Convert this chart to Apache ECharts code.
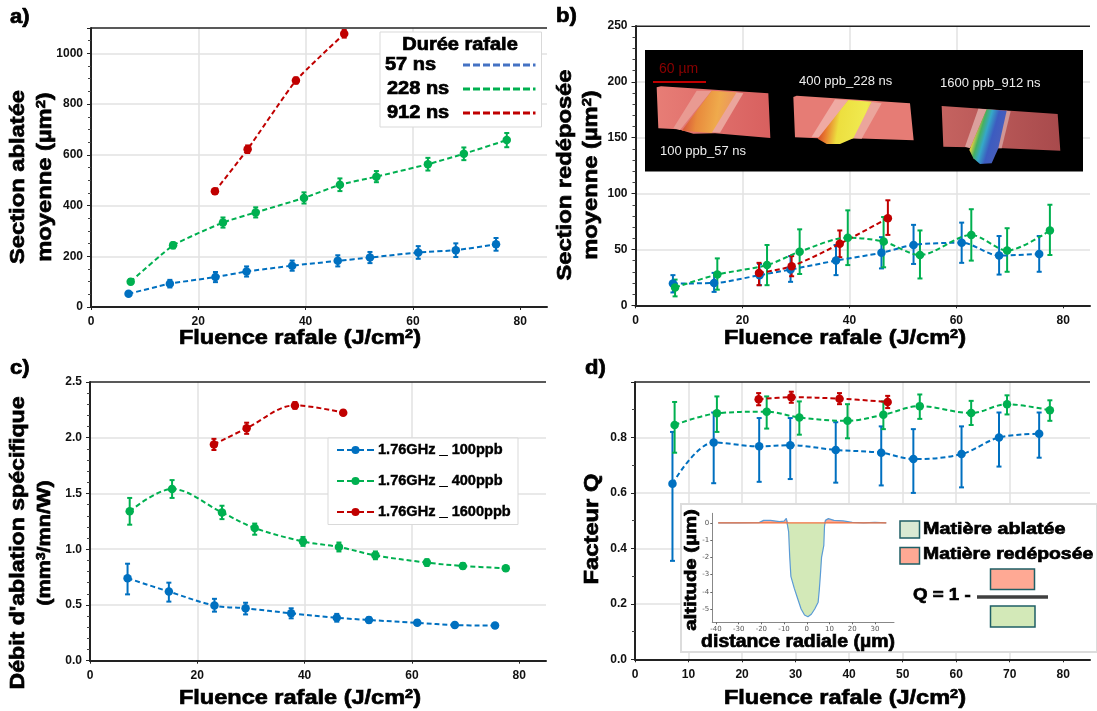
<!DOCTYPE html>
<html><head><meta charset="utf-8">
<style>html,body{margin:0;padding:0;background:#fff}#c{width:1097px;height:711px}</style>
<script src="https://cdn.jsdelivr.net/npm/echarts@6/dist/echarts.min.js"></script>
</head><body><div id="c"></div>
<script>
// ---------- data ----------
const xBlue  = [7, 14.7, 23.2, 29, 37.5, 46, 52, 61, 68, 75.5];
const xGreen = [7.4, 15.3, 24.6, 30.7, 39.7, 46.4, 53.2, 62.8, 69.5, 77.5];
const xRed   = [23.1, 29.2, 38.2, 47.2];

const aBlue    = [52, 92, 118, 140, 163, 182, 195, 215, 224, 247];
const aBlueHi  = [60, 107, 138, 160, 183, 204, 217, 240, 251, 272];
const aBlueLo  = [44, 77, 98, 120, 143, 160, 173, 190, 197, 222];
const aGreen   = [100, 243, 333, 373, 430, 482, 514, 563, 604, 658];
const aGreenHi = [110, 255, 353, 393, 452, 507, 536, 588, 629, 686];
const aGreenLo = [90, 231, 313, 353, 408, 457, 492, 538, 579, 630];
const aRed     = [456, 622, 893, 1077];
const aRedHi   = [466, 637, 905, 1092];
const aRedLo   = [446, 607, 881, 1062];

const bBlue    = [19.5, 20, 27, 32, 40, 47, 54, 56, 44.5, 46];
const bBlueHi  = [27, 29, 37, 44, 54, 61, 72, 74, 62, 62];
const bBlueLo  = [11.5, 12, 18, 21, 27, 33, 37, 38, 27.5, 30];
const bGreen   = [16, 27.5, 36, 48, 60.5, 57, 45, 63, 49, 67];
const bGreenHi = [23, 42, 54, 68, 85, 79, 67, 86, 69, 90];
const bGreenLo = [8, 14, 18, 28, 36, 34, 24, 40, 30, 45];
const bRed     = [29, 35, 55, 78];
const bRedHi   = [38, 44, 67, 94];
const bRedLo   = [18, 26, 43, 63];

const cBlue    = [0.74, 0.62, 0.495, 0.47, 0.425, 0.385, 0.365, 0.34, 0.32, 0.315];
const cBlueHi  = [0.87, 0.70, 0.555, 0.52, 0.47, 0.42, 0.39, 0.365, 0.34, 0.33];
const cBlueLo  = [0.595, 0.53, 0.44, 0.415, 0.38, 0.35, 0.34, 0.32, 0.30, 0.30];
const cGreen   = [1.34, 1.54, 1.33, 1.19, 1.07, 1.02, 0.945, 0.88, 0.85, 0.83];
const cGreenHi = [1.46, 1.62, 1.39, 1.23, 1.11, 1.06, 0.98, 0.91, 0.875, 0.85];
const cGreenLo = [1.22, 1.46, 1.27, 1.13, 1.03, 0.98, 0.91, 0.85, 0.825, 0.81];
const cRed     = [1.94, 2.085, 2.29, 2.225];
const cRedHi   = [1.99, 2.135, 2.32, 2.245];
const cRedLo   = [1.89, 2.035, 2.26, 2.205];

const dBlue    = [0.633, 0.782, 0.768, 0.772, 0.755, 0.745, 0.722, 0.74, 0.80, 0.813];
const dBlueHi  = [0.82, 0.89, 0.87, 0.87, 0.855, 0.84, 0.83, 0.84, 0.89, 0.89];
const dBlueLo  = [0.355, 0.635, 0.64, 0.65, 0.637, 0.627, 0.60, 0.62, 0.695, 0.727];
const dGreen   = [0.845, 0.887, 0.893, 0.872, 0.86, 0.882, 0.913, 0.888, 0.92, 0.898];
const dGreenHi = [0.928, 0.948, 0.948, 0.93, 0.92, 0.93, 0.955, 0.932, 0.952, 0.934];
const dGreenLo = [0.745, 0.82, 0.832, 0.81, 0.797, 0.83, 0.867, 0.845, 0.883, 0.86];
const dRed     = [0.938, 0.945, 0.94, 0.928];
const dRedHi   = [0.96, 0.965, 0.96, 0.95];
const dRedLo   = [0.916, 0.925, 0.92, 0.906];

const profileX = [-39, -30, -21, -19, -16, -12, -10, -9, -8.5, -8, -7.5, -7, -5.5, -4, -2.5, -1, 0.5, 2, 3.5, 5, 5.5, 6, 6.5, 7.5, 7.8, 8.2, 9.5, 12, 16, 20, 25, 30, 35];
const profileY = [0, 0, 0.02, 0.15, 0.15, 0.08, 0.1, 0.27, 0.25, -0.5, -2, -3.1, -3.8, -4.4, -5, -5.35, -5.45, -5.3, -5, -4.6, -3.9, -3, -2, -1.3, -0.2, 0.15, 0.25, 0.15, 0.12, 0.03, 0, 0.03, 0];

const xTicks = [0, 20, 40, 60, 80];
const xTicksD = [0, 10, 20, 30, 40, 50, 60, 70, 80];
const insetXTicks = [-40, -30, -20, -10, 0, 10, 20, 30];
const insetYTicks = [-5, -4, -3, -2, -1, 0];
const legendA = ['57 ns', '228 ns', '912 ns'];
const legendC = ['1.76GHz _ 100ppb', '1.76GHz _ 400ppb', '1.76GHz _ 1600ppb'];

// ---------- styling ----------
const BLUE = '#0070C0', GREEN = '#00B050', RED = '#C00000';
const FONT = '"Liberation Sans", Arial, sans-serif';
const INK = '#111';

const grids = [
  {left: 91,    top: 28,  width: 456,   height: 279},
  {left: 635.5, top: 26,  width: 454.5, height: 279.3},
  {left: 90,    top: 382, width: 456,   height: 278.7},
  {left: 635,   top: 382, width: 455,   height: 277.3},
  {left: 712.3, top: 513.3, width: 181.7, height: 109}
];

function mainX(i, ticks) {
  return {gridIndex: i, type: 'value', min: 0, max: 85, z: 0,
    axisLine: {show: true, onZero: false, lineStyle: {color: '#222', width: 2}},
    axisTick: {show: true, length: 3, lineStyle: {color: '#222'}, customValues: ticks},
    axisLabel: {color: INK, fontWeight: 'bold', fontSize: 12, fontFamily: FONT, margin: 9, customValues: ticks},
    splitLine: {show: true, showMinLine: false, showMaxLine: false, lineStyle: {color: '#e2e2e2', width: 1.5}}};
}
function mainY(i, max, interval, minor, fmt) {
  return {gridIndex: i, type: 'value', min: 0, max: max, interval: interval, z: 0,
    axisLine: {show: true, onZero: false, lineStyle: {color: '#222', width: 2}},
    axisTick: {show: true, length: 4, lineStyle: {color: '#222', width: 1}},
    minorTick: {show: true, splitNumber: minor, length: 3, lineStyle: {color: '#444'}},
    axisLabel: {color: INK, fontWeight: 'bold', fontSize: 12, fontFamily: FONT, margin: 8, showMaxLabel: max % interval === 0 ? true : false,
      formatter: fmt},
    splitLine: {show: true, showMinLine: false, showMaxLine: false, lineStyle: {color: '#e2e2e2', width: 1.5}}};
}
function errorSeries(i, color, xs, lo, hi) {
  return {type: 'custom', xAxisIndex: i, yAxisIndex: i, z: 3, silent: true, clip: false,
    data: xs.map((x, k) => [x, lo[k], hi[k]]), encode: {x: 0, y: [1, 2]},
    renderItem(params, api) {
      const a = api.coord([api.value(0), api.value(1)]), b = api.coord([api.value(0), api.value(2)]);
      const st = {stroke: color, lineWidth: 2, fill: 'none'};
      return {type: 'group', children: [
        {type: 'line', shape: {x1: a[0], y1: a[1], x2: b[0], y2: b[1]}, style: st},
        {type: 'line', shape: {x1: a[0] - 2.5, y1: a[1], x2: a[0] + 2.5, y2: a[1]}, style: st},
        {type: 'line', shape: {x1: b[0] - 2.5, y1: b[1], x2: b[0] + 2.5, y2: b[1]}, style: st}
      ]};
    }};
}
function lineSeries(i, name, color, xs, ys, smooth) {
  return {type: 'line', name: name, xAxisIndex: i, yAxisIndex: i, z: 4, smooth: smooth, clip: false,
    data: xs.map((x, k) => [x, ys[k]]), symbol: 'circle', symbolSize: 8.5, animation: false,
    itemStyle: {color: color}, lineStyle: {color: color, width: 2, type: [5, 3]}};
}
function panel(i, blue, bhi, blo, green, ghi, glo, red, rhi, rlo, smooth) {
  return [
    errorSeries(i, BLUE, xBlue, blo, bhi), lineSeries(i, '100 ppb', BLUE, xBlue, blue, smooth),
    errorSeries(i, GREEN, xGreen, glo, ghi), lineSeries(i, '400 ppb', GREEN, xGreen, green, smooth),
    errorSeries(i, RED, xRed, rlo, rhi), lineSeries(i, '1600 ppb', RED, xRed, red, smooth)
  ];
}

// ---------- decoration helpers ----------
const gfx = [];
function txt(x, y, text, size, o) {
  o = o || {};
  const weight = o.weight || 'bold', color = o.color || '#000', sw = o.sw === undefined ? 0.7 : o.sw;
  const base = {fontSize: size, fontWeight: weight, fontFamily: FONT, fill: color, stroke: sw ? color : null, lineWidth: sw};
  gfx.push({type: 'text', z: o.z || 5, x: x, y: y, rotation: o.rot || 0, scaleX: o.sx || 1, silent: true,
    style: Object.assign({}, base, {text: text, align: o.align || 'center', verticalAlign: 'middle',
      rich: {s: Object.assign({}, base, {fontSize: Math.round(size * 0.64), verticalAlign: 'top'}),
             n: base}})});
}
function rect(x, y, w, h, fill, stroke, lw, z) {
  gfx.push({type: 'rect', z: z || 1, silent: true, shape: {x: x, y: y, width: w, height: h},
    style: {fill: fill, stroke: stroke || null, lineWidth: lw || 0}});
}
function ln(x1, y1, x2, y2, color, lw, dash, z) {
  gfx.push({type: 'line', z: z || 5, silent: true, shape: {x1: x1, y1: y1, x2: x2, y2: y2},
    style: {stroke: color, lineWidth: lw, lineDash: dash || null}});
}
function poly(pts, fill, z) {   // coordinates as measured in the 3x crop of the embedded micrograph
  gfx.push({type: 'polygon', z: z || 2, silent: true,
    shape: {points: pts.map(p => [640 + p[0] / 3, 40 + p[1] / 3])}, style: {fill: fill}});
}
const grad = (stops, x, y, x2, y2) => ({type: 'linear', x: x, y: y, x2: x2, y2: y2,
  colorStops: stops.map((c, i) => ({offset: c[0], color: c[1]}))});

// top borders
[[91, 28, 547], [635.5, 26.3, 1090], [90, 382, 546], [635, 382, 1090]].forEach(t => ln(t[0], t[1], t[2], t[1], '#222', 1.5, null, 1));

// panel letters
txt(10, 17, 'a)', 20, {align: 'left', sx: 1.1});
txt(556, 16, 'b)', 20, {align: 'left', sx: 1.1});
txt(10, 368, 'c)', 20, {align: 'left', sx: 1.1});
txt(585, 368, 'd)', 20, {align: 'left', sx: 1.1});

// axis titles
const fluence = '{n|Fluence rafale (J/cm}{s|2}{n|)}';
const SX = 1.12;
txt(300, 338, fluence, 21, {sx: SX});
txt(845, 338, fluence, 21, {sx: SX});
txt(300, 698, fluence, 21, {sx: SX});
txt(845, 698, fluence, 21, {sx: SX});
const UP = Math.PI / 2;
txt(18, 177, 'Section ablatée', 21, {rot: UP, sx: 1.13});
txt(45, 177, '{n|moyenne (µm}{s|2}{n|)}', 21, {rot: UP, sx: 1.13});
txt(565, 175, 'Section redéposée', 21, {rot: UP, sx: 1.13});
txt(591, 175, '{n|moyenne (µm}{s|2}{n|)}', 21, {rot: UP, sx: 1.13});
txt(18, 543, "Débit d'ablation spécifique", 21, {rot: UP, sx: 1.1});
txt(45, 543, '{n|(mm}{s|3}{n|/mn/W)}', 19, {rot: UP, sx: 1.14});
txt(592, 529, 'Facteur Q', 21, {rot: UP, sx: 1.13});

// legend a
rect(380, 32, 161.5, 95, '#fff', '#d9d9d9', 1);
txt(460, 45, 'Durée rafale', 18, {sx: 1.11});
[65, 89, 113].forEach((y, k) => {
  txt(k ? 387 : 385, y, legendA[k], 18, {align: 'left', sx: 1.11});
  ln(463, y, 535.5, y, ['#4472C4', GREEN, RED][k], 3, [7, 3]);
});

// legend c
rect(328, 438, 190, 86.5, '#fff', '#d9d9d9', 1);
[450, 481, 512].forEach((y, k) => {
  const col = [BLUE, GREEN, RED][k];
  ln(337, y, 374.5, y, col, 2.2, [7, 3]);
  gfx.push({type: 'circle', z: 5, silent: true, shape: {cx: 355.5, cy: y, r: 4}, style: {fill: col}});
  txt(378, y, legendC[k], 14, {align: 'left', sw: 0.4, sx: 1.04});
});

// embedded micrograph in panel b
rect(645, 50, 438, 121.5, '#000', null, 0, 1);
poly([[50, 142], [63, 139], [385, 160], [391, 294], [225, 280], [160, 281], [115, 268], [55, 265]], grad([[0, '#e77d76'], [1, '#d8605f']], 0, 0, 1, 0));
poly([[170, 152], [215, 152], [120, 270], [100, 265]], '#e99a92', 3);
poly([[285, 157], [310, 160], [240, 278], [210, 277]], '#eba59c', 3);
poly([[215, 152], [290, 157], [215, 279], [125, 272]], grad([[0, '#d2453a'], [0.3, '#e88a3c'], [0.65, '#efaa4c'], [1, '#ea8f66']], 0, 0.4, 1, 0.6), 4);
poly([[460, 171], [470, 167], [810, 190], [821, 301], [640, 295], [535, 295], [465, 292]], '#e67c75');
poly([[585, 178], [625, 181], [540, 292], [515, 290]], '#efaaa3', 3);
poly([[695, 186], [725, 190], [665, 296], [635, 295]], '#eba59c', 3);
poly([[625, 180], [695, 185], [640, 295], [600, 312], [560, 312], [533, 296]], grad([[0, '#c8342c'], [0.18, '#e8772e'], [0.4, '#eddf3f'], [0.85, '#f0ea50'], [1, '#e8c850']], 0, 0.4, 1, 0.6), 4);
poly([[905, 198], [1253, 222], [1261, 332], [1090, 325], [990, 322], [910, 320]], grad([[0, '#c56360'], [1, '#a84a4c']], 0, 0, 1, 0));
poly([[1015, 206], [1040, 208], [990, 325], [975, 320]], '#dba09c', 3);
poly([[1098, 212], [1112, 214], [1085, 325], [1065, 325]], '#d09694', 3);
poly([[1040, 208], [1100, 212], [1075, 325], [1055, 370], [1020, 372], [1000, 355], [988, 330]], grad([[0, '#d23a2c'], [0.15, '#e8d040'], [0.28, '#46b060'], [0.42, '#35a8c8'], [0.6, '#3c5cc0'], [1, '#4f5fb8']], 0, 0.4, 1, 0.6), 4);
txt(659, 69, '60 µm', 14, {align: 'left', weight: 'normal', color: '#8b0000', sw: 0});
ln(653, 82, 706, 82, '#c00000', 2);
txt(660, 151, '100 ppb_57 ns', 13, {align: 'left', weight: 'normal', color: '#eee', sw: 0});
txt(799, 81, '400 ppb_228 ns', 13, {align: 'left', weight: 'normal', color: '#eee', sw: 0});
txt(940, 83, '1600 ppb_912 ns', 13, {align: 'left', weight: 'normal', color: '#eee', sw: 0});

// inset of panel d
rect(681, 504, 416, 148, '#fff', '#dcdcdc', 2, 1);
txt(691, 570, 'altitude (µm)', 17, {rot: UP, sx: 1.2});
txt(798, 642, 'distance radiale (µm)', 18, {sx: 1.08});
rect(900, 521, 19.5, 17, '#d9ead3', '#1f5f66', 1.5, 5);
rect(900, 547.5, 19.5, 16.5, '#ffa994', '#1f5f66', 1.5, 5);
txt(923, 529, 'Matière ablatée', 17, {align: 'left', sx: 1.16});
txt(923, 554, 'Matière redéposée', 17, {align: 'left', sx: 1.14});
txt(913, 595, 'Q = 1 -', 17, {align: 'left', sx: 1.1});
rect(990.5, 569, 44, 20.5, '#ffa994', '#1f5f66', 1.5, 5);
ln(977, 597, 1048, 597, '#404040', 3.5);
rect(990.5, 606, 44.5, 21, '#d3e9b8', '#1f5f66', 1.5, 5);

const insetAxis = (extra, ticks) => Object.assign({gridIndex: 4, type: 'value', z: 6,
  axisLine: {show: true, onZero: false, lineStyle: {color: '#888', width: 1}},
  axisTick: {show: true, length: 2, lineStyle: {color: '#666'}, customValues: ticks},
  axisLabel: {color: '#555', fontSize: 7, fontFamily: 'DejaVu Sans', margin: 3, customValues: ticks},
  splitLine: {show: false}}, extra);

const series = [
  ...panel(0, aBlue, aBlueHi, aBlueLo, aGreen, aGreenHi, aGreenLo, aRed, aRedHi, aRedLo, 0.15),
  ...panel(1, bBlue, bBlueHi, bBlueLo, bGreen, bGreenHi, bGreenLo, bRed, bRedHi, bRedLo, 0.3),
  ...panel(2, cBlue, cBlueHi, cBlueLo, cGreen, cGreenHi, cGreenLo, cRed, cRedHi, cRedLo, 0.35),
  ...panel(3, dBlue, dBlueHi, dBlueLo, dGreen, dGreenHi, dGreenLo, dRed, dRedHi, dRedLo, 0.35),
  {type: 'line', name: 'Matière ablatée', xAxisIndex: 4, yAxisIndex: 4, z: 6, showSymbol: false, symbol: 'none',
    data: profileX.map((x, k) => [x, Math.min(profileY[k], 0)]),
    lineStyle: {width: 0}, areaStyle: {color: '#d3e9b8', opacity: 1, origin: 0}},
  {type: 'line', name: 'Matière redéposée', xAxisIndex: 4, yAxisIndex: 4, z: 6, showSymbol: false, symbol: 'none',
    data: profileX.map((x, k) => [x, Math.max(profileY[k], 0)]),
    lineStyle: {width: 0}, areaStyle: {color: '#ffa994', opacity: 1, origin: 0}},
  {type: 'line', name: 'profil', xAxisIndex: 4, yAxisIndex: 4, z: 7, showSymbol: false, symbol: 'none',
    data: profileX.map((x, k) => [x, profileY[k]]),
    lineStyle: {color: '#5b9bd5', width: 1.2}},
  {type: 'line', name: 'niveau', xAxisIndex: 4, yAxisIndex: 4, z: 8, showSymbol: false, symbol: 'none',
    data: [[profileX[0], 0], [profileX[profileX.length - 1], 0]],
    lineStyle: {color: '#f0703c', width: 1.3}}
];

const chart = echarts.init(document.getElementById('c'), null, {renderer: 'canvas'});
chart.setOption({
  animation: false,
  backgroundColor: '#fff',
  grid: grids,
  xAxis: [mainX(0, xTicks), mainX(1, xTicks), mainX(2, xTicks), mainX(3, xTicksD),
    insetAxis({min: -41.6, max: 38.4}, insetXTicks)],
  yAxis: [
    mainY(0, 1100, 200, 4, v => String(v)),
    mainY(1, 250, 50, 5),
    mainY(2, 2.5, 0.5, 5, v => v.toFixed(1)),
    mainY(3, 1, 0.2, 2, v => v.toFixed(1)),
    insetAxis({min: -5.77, max: 0.56}, insetYTicks)
  ],
  graphic: {elements: gfx},
  series: series
});
</script></body></html>
